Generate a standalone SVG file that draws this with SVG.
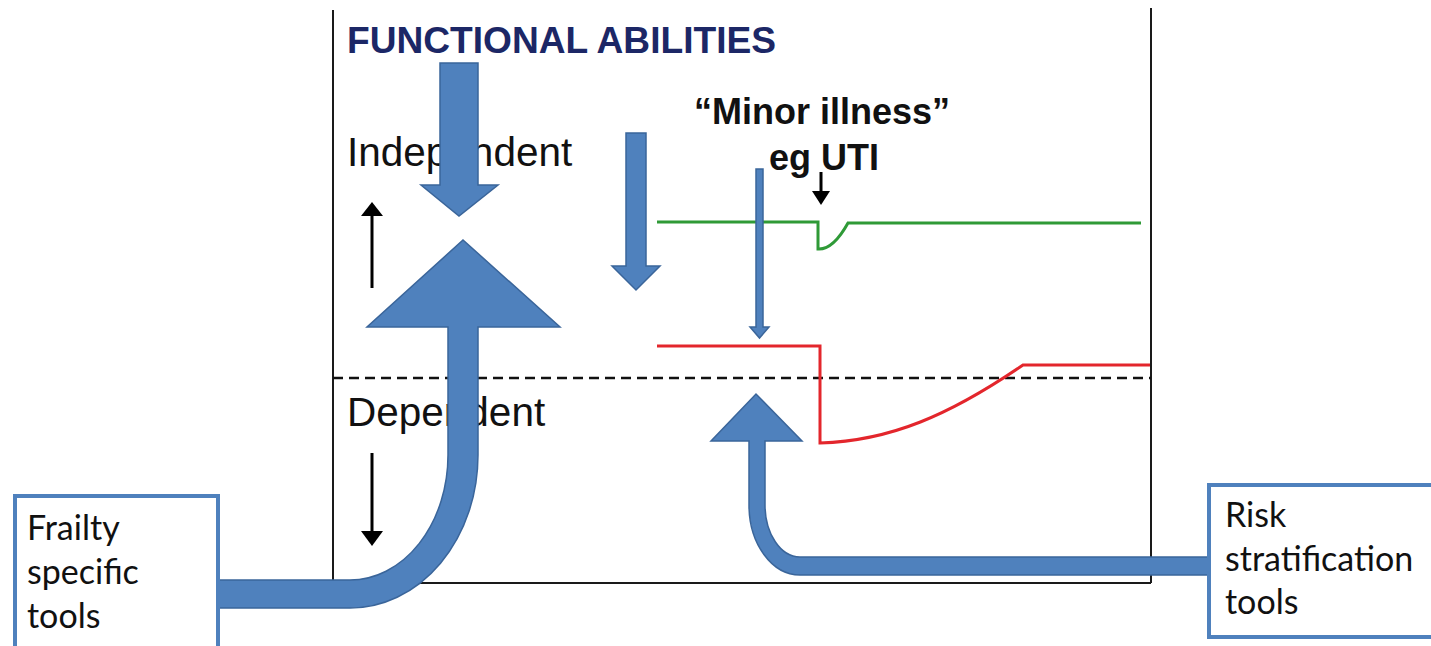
<svg xmlns="http://www.w3.org/2000/svg" width="1431" height="646" viewBox="0 0 1431 646">
<defs>
<style>
.frame{stroke:#1a1a1a;stroke-width:2;fill:none}
.dash{stroke:#111;stroke-width:2.5;stroke-dasharray:10 6;fill:none}
.blue{fill:#4F81BD;stroke:#3A659A;stroke-width:1.5;stroke-linejoin:miter}
.blk{stroke:#000;stroke-width:3;fill:none}
.head{fill:#000}
.lbl{font-family:"Liberation Sans",Arial,sans-serif;font-size:40.5px;fill:#111}
.bold{font-family:"Liberation Sans",Arial,sans-serif;font-weight:bold;fill:#111}
.box{fill:#fff;stroke:#4F81BD;stroke-width:4}
.boxt{font-family:Lato,"Open Sans",sans-serif;font-size:34px;fill:#111}
</style>
</defs>
<rect width="1431" height="646" fill="#fff"/>

<g id="chart">
<line class="frame" x1="333" y1="10" x2="333" y2="583"/>
<line class="frame" x1="1151" y1="8" x2="1151" y2="583"/>
<line class="frame" x1="333" y1="583" x2="1151" y2="583"/>
<line class="dash" x1="333" y1="378" x2="1151" y2="378"/>
<text x="347" y="53" class="bold" font-size="36" style="fill:#1c2766" textLength="429" lengthAdjust="spacingAndGlyphs">FUNCTIONAL ABILITIES</text>
<text x="347" y="166" class="lbl">Independent</text>
<text x="347" y="426" class="lbl">Dependent</text>
<text x="822" y="124" class="bold" font-size="36" text-anchor="middle">“Minor illness”</text>
<text x="824" y="170" class="bold" font-size="36" text-anchor="middle">eg UTI</text>
<path d="M657,222 H818 V249 Q833,250 848,223 H1141" fill="none" stroke="#2f9a37" stroke-width="3"/>
<path d="M657,346 H820 V443 C890,441 950,415 1023,365 H1150" fill="none" stroke="#e3262c" stroke-width="3"/>
</g>

<g id="small-arrows">
<line class="blk" x1="372" y1="288" x2="372" y2="212"/>
<polygon class="head" points="372,202 383,216 361,216"/>
<line class="blk" x1="372" y1="453" x2="372" y2="536"/>
<polygon class="head" points="372,546 383,531 361,531"/>
<line class="blk" x1="821" y1="172" x2="821" y2="195"/>
<polygon class="head" points="821,205 830,191 812,191"/>
</g>

<g id="connectors">
<polygon id="top-down-arrow" class="blue" points="440,63 478,63 478,185 498,185 459,216 421,185 440,185"/>
<polygon id="mid-down-arrow" class="blue" points="626,133 646,133 646,266 660,266 636,290 612,266 626,266"/>
<polygon id="thin-down-arrow" class="blue" points="756,169 763,169 763,327 769,327 759.5,338 750,327 756,327"/>
<path id="frailty-arrow" class="blue" d="M218,580 H350 A98,125 0 0 0 448,455 V327 H367 L463,240 L560,327 H478 V455 A128,153 0 0 1 350,608 H218 Z"/>
<path id="risk-arrow" class="blue" d="M1208,557 H800 A35,52 0 0 1 765,505 V441 H802 L756,394 L711,441 H749 V505 A51,70 0 0 0 800,575 H1208 Z"/>
</g>

<g id="frailty-box">
<rect class="box" x="15" y="496" width="203" height="170"/>
<text class="boxt" x="27" y="540">Frailty</text>
<text class="boxt" x="27" y="584">specific</text>
<text class="boxt" x="27" y="628">tools</text>
</g>

<g id="risk-box">
<rect class="box" x="1209" y="485" width="240" height="152"/>
<text class="boxt" x="1225" y="527">Risk</text>
<text class="boxt" x="1225" y="571">stratification</text>
<text class="boxt" x="1225" y="614">tools</text>
</g>
</svg>
